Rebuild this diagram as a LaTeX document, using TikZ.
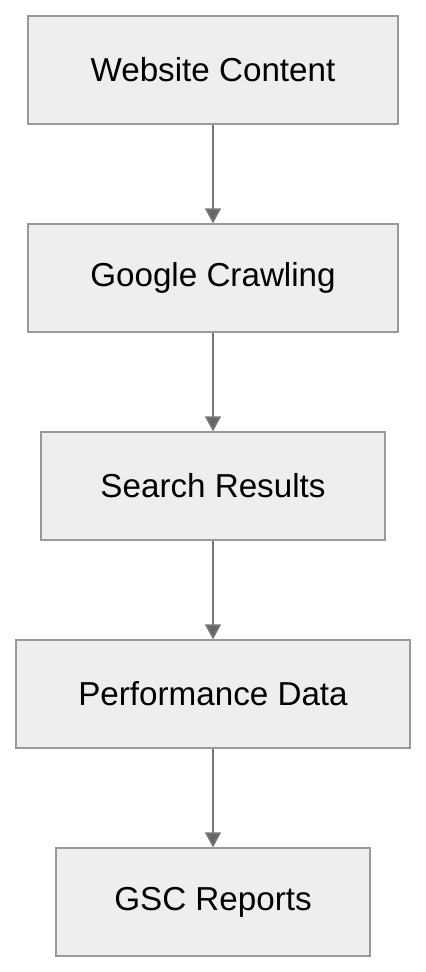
\documentclass[tikz,border=0pt]{standalone}
\usepackage{fontspec}
\setmainfont{Liberation Sans}
\usepackage{xcolor}
\usetikzlibrary{arrows.meta,positioning}

\definecolor{boxfill}{HTML}{EEEEEE}
\definecolor{boxline}{HTML}{999999}
\definecolor{flowline}{HTML}{777777}
\definecolor{flowtip}{HTML}{666666}

\begin{document}
\begin{tikzpicture}[
  x=0.5pt, y=-0.5pt,
  box/.style={draw=boxline, fill=boxfill, line width=0.65pt, minimum height=54pt,
              inner sep=0pt, align=center, font=\fontsize{16.6}{20}\selectfont},
  arrow/.style={-{Triangle[width=8pt, length=7.5pt, fill=flowtip]}, draw=flowline, line width=0.75pt}
]
\useasboundingbox (0,0) rectangle (426,972);
\node[box, minimum width=185pt] (web) at (213,70) {Website Content};
\node[box, minimum width=185pt] (crawl) at (213,278) {Google Crawling};
\node[box, minimum width=172pt] (serp) at (213,486) {Search Results};
\node[box, minimum width=197pt] (perf) at (213,694) {Performance Data};
\node[box, minimum width=157pt] (gsc) at (213,902) {GSC Reports};
\draw[arrow] (web) -- (crawl);
\draw[arrow] (crawl) -- (serp);
\draw[arrow] (serp) -- (perf);
\draw[arrow] (perf) -- (gsc);
\end{tikzpicture}
\end{document}
